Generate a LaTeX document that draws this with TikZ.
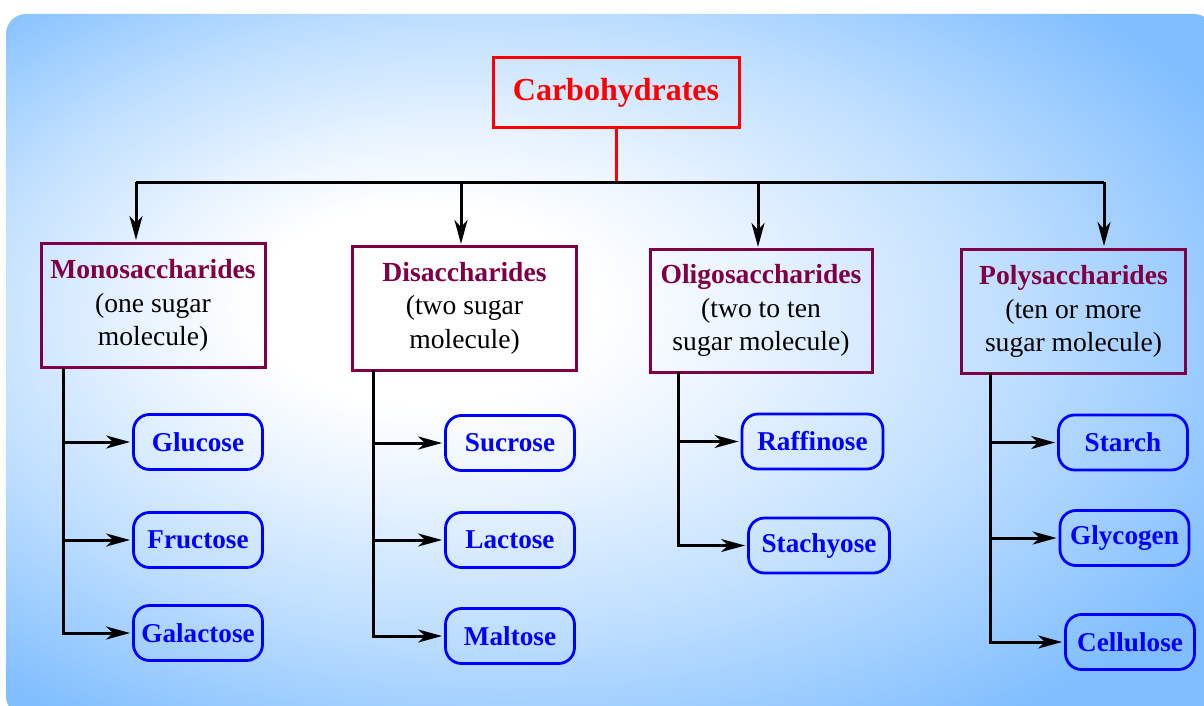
\documentclass[tikz,border=0pt]{standalone}
\usepackage{fontspec}
\setmainfont{Liberation Serif}
\usetikzlibrary{arrows.meta}

\definecolor{bgblue}{RGB}{128,190,255}
\definecolor{bgmid}{RGB}{190,222,255}
\definecolor{bglight}{RGB}{232,243,255}
\definecolor{maroon}{RGB}{128,0,70}
\pgfdeclareradialshading{bgshade}{\pgfpoint{-9bp}{5bp}}{color(0bp)=(white); color(7bp)=(white); color(13bp)=(bglight); color(22bp)=(bgmid); color(33bp)=(bgblue); color(50bp)=(bgblue)}

\begin{document}
\begin{tikzpicture}[x=0.5pt, y=-0.5pt,
    catbox/.style={draw=maroon, line width=1.5pt, minimum width=112pt, minimum height=62pt,
        align=center, inner sep=0pt, font=\fontsize{13.8}{16.8}\selectfont},
    leaf/.style={draw=blue, line width=1.4pt, rounded corners=8pt, minimum width=64.5pt,
        minimum height=27.5pt, text=blue, font=\fontsize{13.6}{16}\selectfont\bfseries},
    bus/.style={line width=1.5pt},
    link/.style={line width=1.5pt, -{Stealth[length=12pt,width=6.5pt,inset=3.5pt]}, shorten >=1pt}]
    \useasboundingbox (0,0) rectangle (1204,706);
    \shade[shading=bgshade, rounded corners=10pt] (6,14) rectangle (1214,716);

    \node[draw=red, line width=1.5pt, minimum width=123pt, minimum height=35pt, text=red,
        font=\fontsize{16}{19}\selectfont\bfseries] (carbo) at (616,93) {Carbohydrates};

    \node[catbox] (mono) at (153,305.5) {\textcolor{maroon}{\bfseries Monosaccharides}\\(one sugar\\molecule)};
    \node[catbox] (di) at (464.5,308) {\textcolor{maroon}{\bfseries Disaccharides}\\(two sugar\\molecule)};
    \node[catbox, minimum width=111pt, minimum height=61.5pt] (oligo) at (761,310.5) {\textcolor{maroon}{\bfseries Oligosaccharides}\\(two to ten\\sugar molecule)};
    \node[catbox] (poly) at (1073.5,311.5) {\textcolor{maroon}{\bfseries Polysaccharides}\\(ten or more\\sugar molecule)};

    \node[leaf] (glucose) at (198,442) {Glucose};
    \node[leaf] (fructose) at (198,540) {Fructose};
    \node[leaf] (galactose) at (198,633) {Galactose};
    \node[leaf] (sucrose) at (510,443) {Sucrose};
    \node[leaf] (lactose) at (510,540) {Lactose};
    \node[leaf] (maltose) at (510,636) {Maltose};
    \node[leaf, minimum width=70.5pt] (raffinose) at (812.5,441.5) {Raffinose};
    \node[leaf, minimum width=70.5pt] (stachyose) at (819,545.5) {Stachyose};
    \node[leaf] (starch) at (1123,442.5) {Starch};
    \node[leaf] (glycogen) at (1124.5,538) {Glycogen};
    \node[leaf] (cellulose) at (1130,642) {Cellulose};

    \coordinate (split) at (616,182);
    \coordinate (busL) at (136,182);
    \coordinate (busR) at (1104,182);
    \draw[red, bus] (carbo) -- (split);
    \draw[bus] (busL) -- (busR);
    \draw[link] (busL) -- (busL |- mono.north);
    \draw[link] (461,182) -- (461,246);
    \draw[link] (758,182) -- (758,249);
    \draw[link] (busR) -- (busR |- poly.north);

    \coordinate (monoL) at (63,368);
    \draw[link] (monoL) |- (galactose.west);
    \draw[link] (monoL |- glucose.west) -- (glucose.west);
    \draw[link] (monoL |- fructose.west) -- (fructose.west);

    \coordinate (diL) at (373,370);
    \draw[link] (diL) |- (maltose.west);
    \draw[link] (diL |- sucrose.west) -- (sucrose.west);
    \draw[link] (diL |- lactose.west) -- (lactose.west);

    \coordinate (oligoL) at (678,372);
    \draw[link] (oligoL) |- (stachyose.west);
    \draw[link] (oligoL |- raffinose.west) -- (raffinose.west);

    \coordinate (polyL) at (990,373);
    \draw[link] (polyL) |- (cellulose.west);
    \draw[link] (polyL |- starch.west) -- (starch.west);
    \draw[link] (polyL |- glycogen.west) -- (glycogen.west);
\end{tikzpicture}
\end{document}
